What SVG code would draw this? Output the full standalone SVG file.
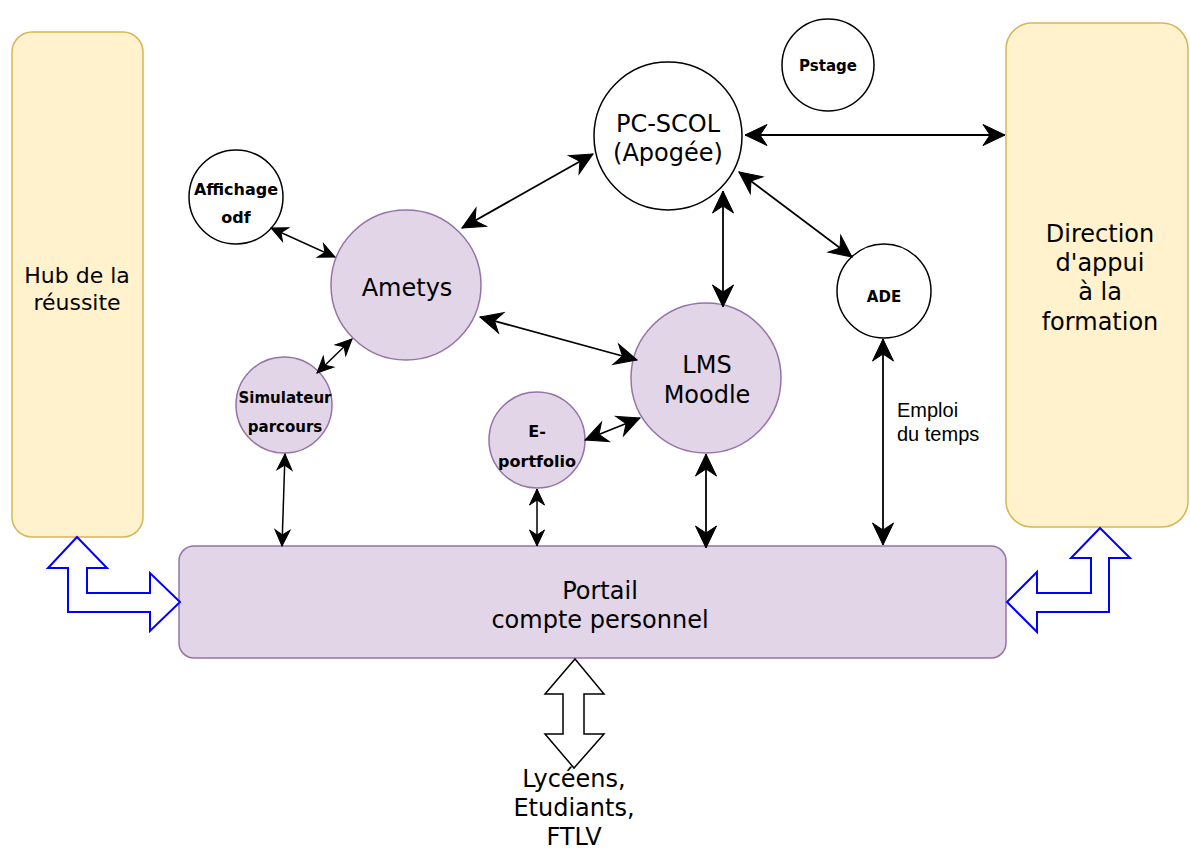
<svg xmlns="http://www.w3.org/2000/svg" width="1190" height="850" viewBox="0 0 1190 850">
<defs>
<style>
.txt{font-family:"DejaVu Sans","Noto Sans",sans-serif;fill:#000;text-anchor:middle}
.big{font-size:24px}
.mid{font-size:22px}
.lg{font-size:24px}
.sm{font-size:15px;font-weight:bold}
.sm2{font-size:16px;font-weight:bold}
.lbl{font-family:"Liberation Sans",Arial,sans-serif;font-size:20px;fill:#000}
.yel{fill:#fff2cc;stroke:#d6b656;stroke-width:1.5}
.pur{fill:#e1d5e7;stroke:#9673a6;stroke-width:1.5}
.wht{fill:#fff;stroke:#000;stroke-width:1.5}
.con{stroke:#000;stroke-width:1.5;fill:none}
.cb{stroke-width:1.8;marker-start:url(#mb);marker-end:url(#mb)}
.cs{marker-start:url(#ms);marker-end:url(#ms)}
.blue{fill:#fff;stroke:#0000ff;stroke-width:2;stroke-linejoin:miter}
.blk{fill:#fff;stroke:#000;stroke-width:1.5}
</style>
<marker id="mb" markerUnits="userSpaceOnUse" markerWidth="30" markerHeight="30" refX="0" refY="0" orient="auto-start-reverse" overflow="visible">
<path d="M0,0 L-22,-10.5 L-15,0 L-22,10.5 Z" fill="#000" stroke="#000" stroke-width="1"/>
</marker>
<marker id="ms" markerUnits="userSpaceOnUse" markerWidth="22" markerHeight="22" refX="0" refY="0" orient="auto-start-reverse" overflow="visible">
<path d="M0,0 L-16,-7.5 L-11,0 L-16,7.5 Z" fill="#000" stroke="#000" stroke-width="1"/>
</marker>
</defs>

<g id="hub">
<rect class="yel" x="12" y="32" width="131" height="505" rx="20"/>
<text class="txt mid" x="77" y="283">Hub de la</text>
<text class="txt mid" x="77" y="310">réussite</text>
</g>

<g id="direction">
<rect class="yel" x="1006" y="23" width="182" height="504" rx="26"/>
<text class="txt lg" x="1100" y="242">Direction</text>
<text class="txt lg" x="1100" y="271">d'appui</text>
<text class="txt lg" x="1100" y="300">à la</text>
<text class="txt lg" x="1100" y="330">formation</text>
</g>

<g id="portail">
<rect class="pur" x="179" y="546" width="827" height="112" rx="15"/>
<text class="txt lg" x="600" y="599">Portail</text>
<text class="txt lg" x="600" y="628">compte personnel</text>
</g>

<g id="pstage">
<circle class="wht" cx="828" cy="65" r="46"/>
<text class="txt sm" x="828" y="71">Pstage</text>
</g>

<g id="pcscol">
<circle class="wht" cx="668" cy="136" r="74"/>
<text class="txt big" x="668" y="132">PC-SCOL</text>
<text class="txt big" x="668" y="161">(Apogée)</text>
</g>

<g id="affichage">
<circle class="wht" cx="236" cy="197" r="47"/>
<text class="txt sm2" x="236" y="195">Affichage</text>
<text class="txt sm2" x="236" y="223">odf</text>
</g>

<g id="ametys">
<circle class="pur" cx="406" cy="285" r="75"/>
<text class="txt big" x="407" y="296">Ametys</text>
</g>

<g id="ade">
<circle class="wht" cx="884" cy="291" r="47"/>
<text class="txt sm" x="884" y="302">ADE</text>
</g>

<g id="simulateur">
<circle class="pur" cx="284" cy="405" r="48"/>
<text class="txt sm" x="285" y="403">Simulateur</text>
<text class="txt sm" x="285" y="432">parcours</text>
</g>

<g id="lms">
<circle class="pur" cx="706" cy="378" r="75"/>
<text class="txt big" x="707" y="373">LMS</text>
<text class="txt big" x="707" y="403">Moodle</text>
</g>

<g id="eportfolio">
<circle class="pur" cx="537" cy="440" r="48"/>
<text class="txt sm2" x="537" y="437">E-</text>
<text class="txt sm2" x="537" y="467">portfolio</text>
</g>

<g id="usagers">
<text class="txt lg" x="574" y="787">Lycéens,</text>
<text class="txt lg" x="574" y="816">Etudiants,</text>
<text class="txt lg" x="574" y="845">FTLV</text>
</g>

<g id="connectors">
<line class="con cs" x1="271" y1="228" x2="335" y2="257"/>
<line class="con cs" x1="352" y1="339" x2="317" y2="373"/>
<line class="con cb" x1="462" y1="228" x2="593" y2="154"/>
<line class="con cb" x1="745" y1="135" x2="1005" y2="135"/>
<line class="con cb" x1="739" y1="172" x2="852" y2="257"/>
<line class="con cb" x1="723" y1="191" x2="723" y2="307"/>
<line class="con cb" x1="480" y1="317" x2="637" y2="360"/>
<line class="con cb" x1="585" y1="440" x2="640" y2="418"/>
<line class="con cs" x1="537" y1="489" x2="537" y2="546"/>
<line class="con cb" x1="706" y1="454" x2="706" y2="548"/>
<line class="con cb" x1="883" y1="339" x2="883" y2="545"/>
<line class="con cs" x1="285" y1="454" x2="282" y2="546"/>
<text class="lbl" x="897" y="417">Emploi</text>
<text class="lbl" x="897" y="441">du temps</text>
<polygon class="blue" points="77,537 107,568 87,568 87,593 150,593 150,573 180,602 150,631 150,612 68,612 68,568 48,568"/>
<polygon class="blue" points="1100,528 1130,558 1109,558 1109,612 1037,612 1037,632 1007,602 1037,572 1037,593 1091,593 1091,558 1071,558"/>
<polygon class="blk" points="575,659 604,694 584,694 584,734 604,734 574,768 545,734 563,734 563,694 545,694"/>
</g>
</svg>
